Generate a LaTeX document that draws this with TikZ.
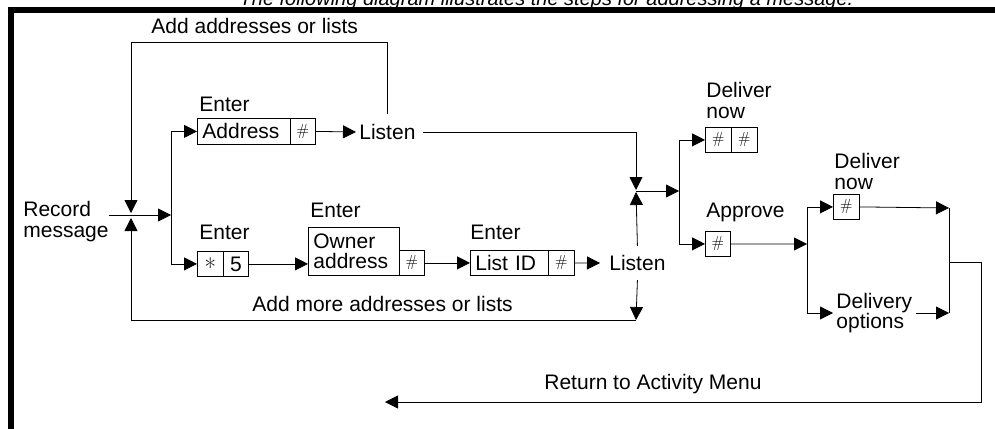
\documentclass[tikz,border=0pt]{standalone}
\usepackage{fontspec}
\setmainfont{Liberation Sans}
\usetikzlibrary{arrows.meta}
% key glyphs printed inside the small key boxes (Latin Modern, scalable)
\newcommand\hashkey{{\fontfamily{lmr}\fontsize{16}{16}\selectfont\#}}
\newcommand\starkey{{\fontfamily{lmr}\fontsize{25}{25}\selectfont\smash{\raisebox{-0.52em}{*}}}}
\begin{document}
\begin{tikzpicture}[x=1pt,y=-1pt,
  line width=0.8pt,
  every node/.style={font=\fontsize{21}{20.5}\selectfont},
  arr/.style={-{Triangle[length=13pt,width=13pt]}},
  lbl/.style={inner sep=0pt},
  lbltwo/.style={inner sep=0pt, align=left},
  keybox/.style={draw, inner sep=0pt, anchor=north west,
    minimum width=#1, minimum height=25pt},
  keybox/.default=25pt,
  txtbox/.style n args={2}{draw, anchor=north west, inner xsep=5pt,
    inner ysep=0pt, text width=#1, minimum height=#2, align=left},
  frame/.style={line width=6pt}
]
\useasboundingbox (0,0) rectangle (995,428);

% heading, mostly above the page edge
\node[lbl, font=\fontsize{20}{20}\selectfont\itshape, anchor=base] (title) at (546.5,5.5)
  {The following diagram illustrates the steps for addressing a message.};
\draw[frame] (11,440) -- (11,10) -- (1005,10);

% ---- text labels ----
\node[lbltwo, anchor=north west] (rec) at (23,201) {Record\\message};
\node[lbl, anchor=base west] (addl) at (151,34) {Add addresses or lists};
\node[lbl, anchor=base west] (addm) at (252,311) {Add more addresses or lists};
\node[lbl, anchor=base west] (e1) at (199,111) {Enter};
\node[lbl, anchor=base west] (e2) at (199,239) {Enter};
\node[lbl, anchor=base west] (e3) at (310,217) {Enter};
\node[lbl, anchor=base west] (e4) at (470,239) {Enter};
\node[lbltwo, anchor=north west] (dnow1) at (706,82) {Deliver\\now};
\node[lbl, anchor=base west] (appr) at (706,217) {Approve};
\node[lbltwo, anchor=north west] (dnow2) at (834,153) {Deliver\\now};
\node[lbl, anchor=base west] (retl) at (544,389) {Return to Activity Menu};

% ---- boxes ----
\node[txtbox={83pt}{26pt}] (addr) at (197,118) {Address};
\node[keybox, minimum height=26pt] (addrk) at (290,118) {\hashkey};
\node[keybox=26pt] (star) at (197,251) {\starkey};
\node[keybox] (five) at (223,251) {5};
\node[txtbox={81pt}{48pt}] (owner) at (308,227) {Owner\\address};
\node[keybox] (ownerk) at (399,250) {\hashkey};
\node[txtbox={68pt}{25pt}] (listid) at (470,250) {List ID};
\node[keybox=26pt] (listk) at (548,250) {\hashkey};
\node[keybox=26pt] (dn1) at (705,127) {\hashkey};
\node[keybox=26pt] (dn2) at (731,127) {\hashkey};
\node[keybox] (appk) at (705,231) {\hashkey};
\node[keybox=26pt] (dnk) at (833,194) {\hashkey};

% ---- Listen prompts and delivery options ----
\node[anchor=west, inner xsep=3pt, inner ysep=10pt] (listen1) at (356,132) {Listen};
\node[anchor=west, inner xsep=9pt, inner ysep=9pt] (listen2) at (600,263) {Listen};
\node[lbltwo, anchor=west, inner xsep=3pt] (delopt) at (833,313) {Delivery\\options};

% ---- junction points ----
\coordinate (jin) at (131,213);
\coordinate (jup) at (131,218);
\coordinate (tl) at (131,42);
\coordinate (s0) at (171,215);
\coordinate (c3) at (636,320);
\coordinate (j1) at (636,191);
\coordinate (j1n) at (636,190);
\coordinate (j1s) at (636,192);
\coordinate (s1) at (679,191);
\coordinate (s2) at (807,244);
\coordinate (m1) at (949,208);
\coordinate (m2) at (949,313);
\coordinate (r0) at (949,262);
\coordinate (rb) at (981,402);
\coordinate (rt) at (385,402);

% ---- connectors ----
\draw[arr] (rec.east |- s0) -- (s0);
\draw[arr] (s0) |- (addr.west);
\draw[arr] (s0) |- (star.west);
\draw[arr] (addrk.east) -- (listen1.west);
\draw[arr] (five.east) -- (five.east -| owner.west);
\draw[arr] (ownerk.east) -- (listid.west);
\draw[arr] (listk.east) -- (listen2.west);

\draw[arr] (listen1.north) |- (tl) -- (jin);
\draw[arr] (listen2.south) -- (c3);
\draw[arr] (c3) -| (jup);

\draw[arr] ([xshift=4pt]listen1.east) -| (j1n);
\draw[arr] (listen2.north) -- (j1s);
\draw[arr] (j1) -- (s1);
\draw[arr] (s1) |- (dn1.west);
\draw[arr] (s1) |- (appk.west);

\draw[arr] (appk.east) -- (s2);
\draw[arr] (s2) |- (dnk.west);
\draw[arr] (s2) |- (delopt.west);
\draw[arr] (dnk.east) -- (m1);
\draw[arr] (delopt.east) -- (m2);
\draw (m1) -- (m2);
\draw[arr] (r0) -| (rb) -- (rt);
\end{tikzpicture}
\end{document}
